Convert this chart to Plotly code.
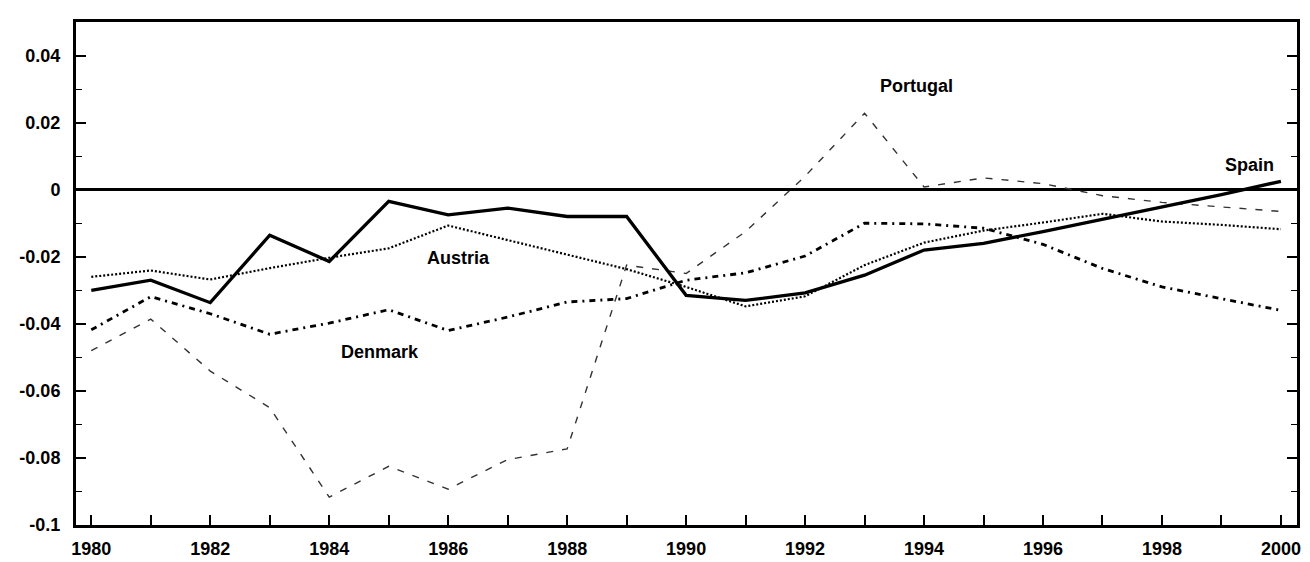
import plotly.graph_objects as go

years = list(range(1980, 2001))

spain = [-0.0300, -0.0270, -0.0337, -0.0136, -0.0214, -0.0035, -0.0075, -0.0055,
         -0.0080, -0.0080, -0.0315, -0.0330, -0.0308, -0.0255, -0.0180, -0.0160,
         -0.0125, -0.0088, -0.0050, -0.0015, 0.0025]
austria = [-0.0260, -0.0241, -0.0268, -0.0234, -0.0203, -0.0175, -0.0107, -0.0150,
           -0.0192, -0.0237, -0.0290, -0.0348, -0.0318, -0.0225, -0.0158, -0.0122,
           -0.0098, -0.0072, -0.0095, -0.0105, -0.0118]
denmark = [-0.0418, -0.0319, -0.0370, -0.0431, -0.0398, -0.0358, -0.0420, -0.0380,
           -0.0335, -0.0325, -0.0270, -0.0248, -0.0198, -0.0100, -0.0102, -0.0115,
           -0.0163, -0.0235, -0.0290, -0.0325, -0.0360]
portugal = [-0.0480, -0.0386, -0.0541, -0.0650, -0.0917, -0.0825, -0.0893, -0.0805,
            -0.0773, -0.0225, -0.0250, -0.0125, 0.0040, 0.0228, 0.0008, 0.0035,
            0.0018, -0.0018, -0.0038, -0.0052, -0.0065]

y_tickvals = [0.04, 0.02, 0, -0.02, -0.04, -0.06, -0.08, -0.1]
y_ticktext = ["0.04", "0.02", "0", "-0.02", "-0.04", "-0.06", "-0.08", "-0.1"]
x_ticktext = [str(y) if y % 2 == 0 else "" for y in years]

labels = ["Portugal", "Spain", "Austria", "Denmark"]
label_x = [1993.88, 1999.47, 1986.18, 1984.86]
label_y = [0.0310, 0.0075, -0.0205, -0.0484]

FONT = "Liberation Sans, Arial, sans-serif"

fig = go.Figure()
fig.add_trace(go.Scatter(x=years, y=portugal, mode="lines", name="Portugal",
                         line=dict(color="#333333", width=1.4, dash="7px,9px")))
fig.add_trace(go.Scatter(x=years, y=denmark, mode="lines", name="Denmark",
                         line=dict(color="black", width=2.8, dash="6px,5px,2px,5px")))
fig.add_trace(go.Scatter(x=years, y=austria, mode="lines", name="Austria",
                         line=dict(color="black", width=2.2, dash="2px,2px")))
fig.add_trace(go.Scatter(x=years, y=spain, mode="lines", name="Spain",
                         line=dict(color="black", width=3.3)))

for t, x, y in zip(labels, label_x, label_y):
    fig.add_annotation(x=x, y=y, text="<b>" + t + "</b>", showarrow=False,
                       font=dict(family=FONT, size=18, color="black"))

fig.update_layout(
    width=1310, height=562,
    margin=dict(l=67, r=21, t=11, b=41),
    paper_bgcolor="white", plot_bgcolor="white",
    showlegend=False,
    font=dict(family=FONT, size=18, color="black", weight="bold"),
)
fig.update_xaxes(
    range=[1979.743, 2000.27],
    tickmode="array", tickvals=years, ticktext=x_ticktext,
    ticks="inside", ticklen=10, tickwidth=1.5, tickcolor="black",
    tickfont=dict(family=FONT, size=18, color="black", weight="bold"),
    showgrid=False, zeroline=False,
    showline=True, linewidth=3, linecolor="black", mirror=True,
    ticklabelstandoff=5,
)
fig.update_yaxes(
    range=[-0.1, 0.05],
    tickmode="array", tickvals=y_tickvals, ticktext=y_ticktext,
    ticks="inside", ticklen=10, tickwidth=1.5, tickcolor="black",
    tickfont=dict(family=FONT, size=18, color="black", weight="bold"),
    minor=dict(ticks="inside", ticklen=6, tickwidth=1, tickcolor="black", dtick=0.01, tick0=0),
    showgrid=False,
    zeroline=True, zerolinewidth=3, zerolinecolor="black",
    showline=True, linewidth=3, linecolor="black", mirror="ticks",
    ticklabelstandoff=9,
)

fig.write_html("out.html")
